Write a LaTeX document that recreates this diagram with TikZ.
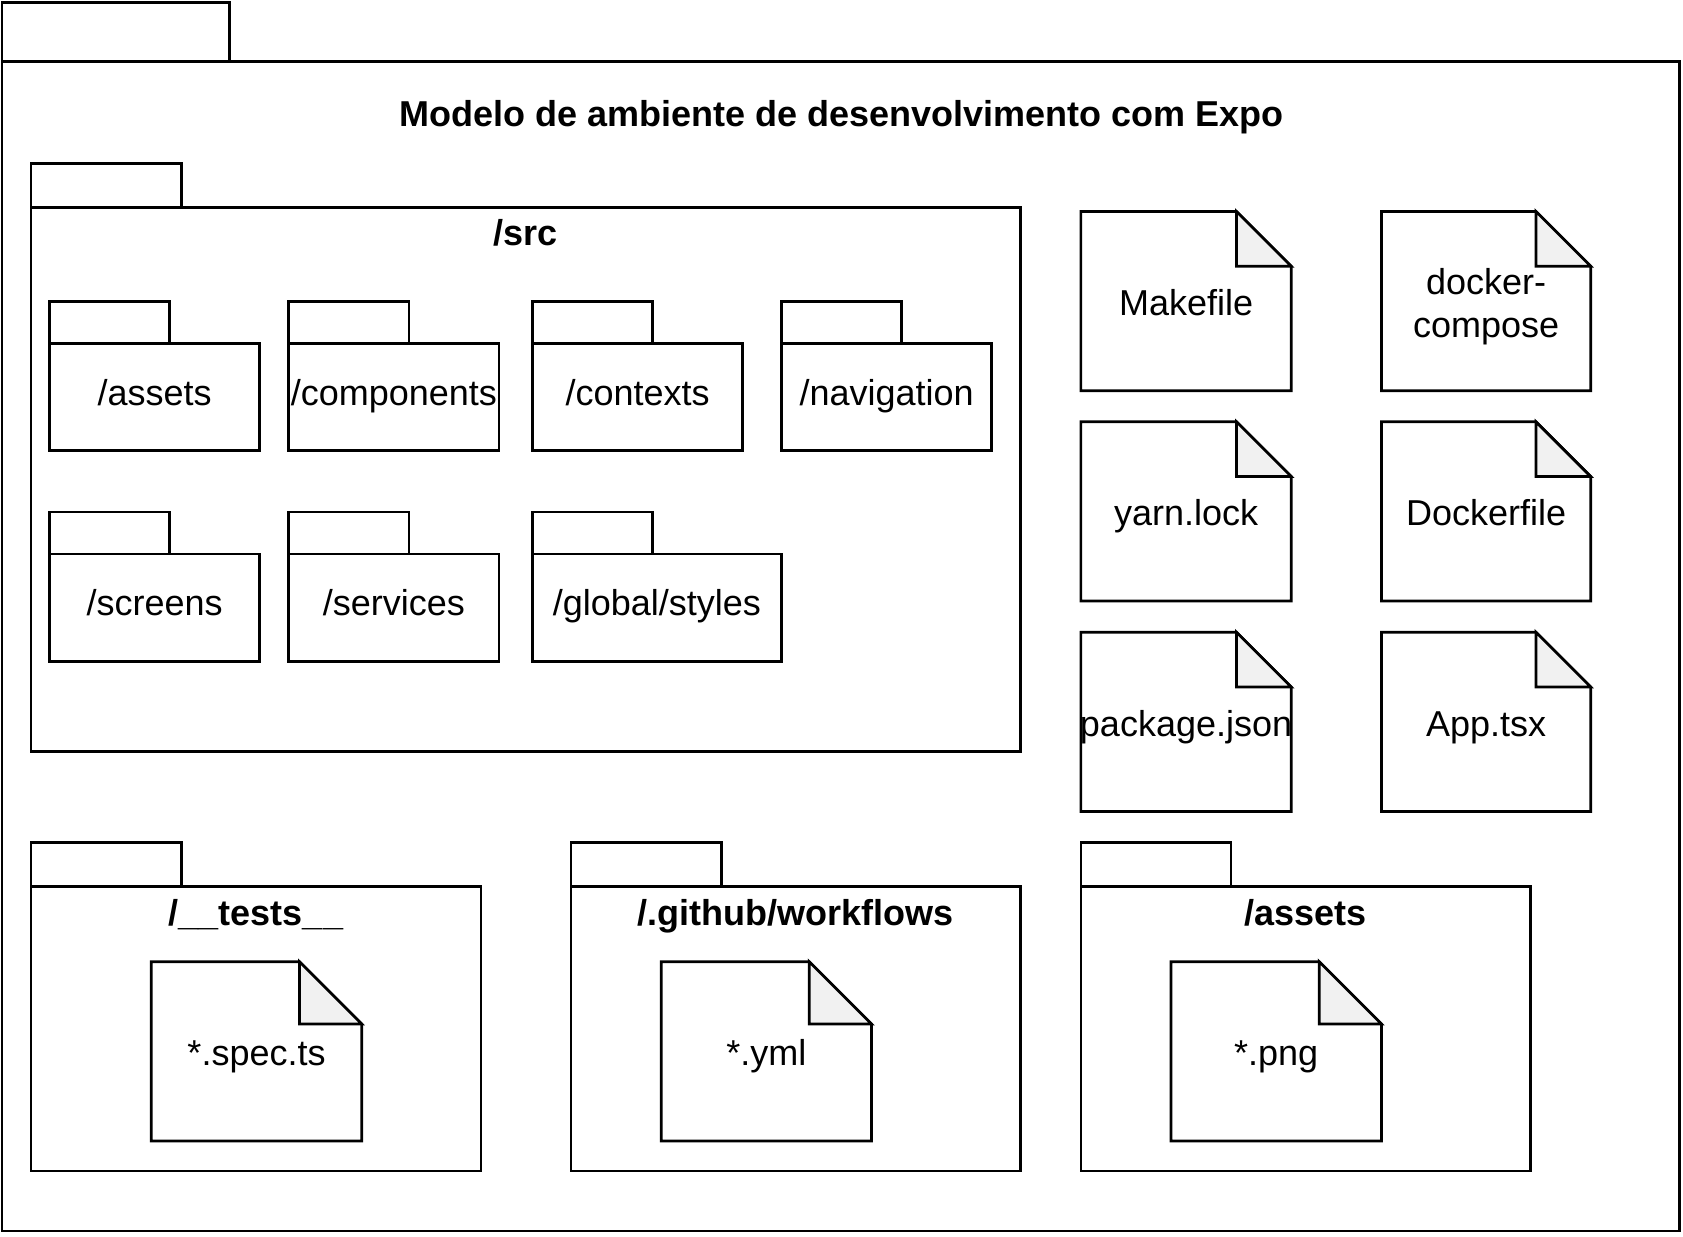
\documentclass[tikz,border=0pt]{standalone}
\usepackage{fontspec}
\setmainfont{Liberation Sans}
\definecolor{foldgray}{HTML}{F1F1F1}
\newcommand{\subpkg}[5]{%
  \draw[ln] (#2,#3) rectangle ({#2+112},{#3+39});
  \draw[ln] (#2,{#3+39}) rectangle ({#2+#4},{#3+139});
  \node[lbl] (#1) at ({#2+#4/2},{#3+85}) {#5};
}
\newcommand{\filenote}[8]{%
  \draw[ln, fill=white] (#2,#3) -- ({#4-#6},#3) -- (#4,{#3+#6}) -- (#4,#5) -- (#2,#5) -- cycle;
  \draw[ln, fill=foldgray] ({#4-#6},#3) -- ({#4-#6},{#3+#6}) -- (#4,{#3+#6}) -- cycle;
  \node[#8] (#1) at ({(#2+#4)/2},{(#3+#5)/2+1.5}) {#7};
}
\begin{document}
\begin{tikzpicture}[x=1.0733pt,y=-1.0733pt,
  ln/.style={line width=2.7pt, draw=black, line join=miter},
  lbl/.style={font=\fontsize{36}{42}\selectfont, inner sep=0pt, text height=26pt, text depth=0.5pt},
  mlbl/.style={font=\fontsize{36}{42}\selectfont, inner sep=0pt, align=center, yshift=-4pt},
  blbl/.style={font=\fontsize{36}{42}\selectfont\bfseries, inner sep=0pt, text height=26pt, text depth=0.5pt}]
\useasboundingbox (0,0) rectangle (1568,1152);
\fill[white] (0,0) rectangle (1568,1152);

% outer package
\draw[ln] (2,2) rectangle (214,57);
\draw[ln] (2,57) rectangle (1565,1147);
\node[blbl] (title) at (784,106) {Modelo de ambiente de desenvolvimento com Expo};

% /src package
\draw[ln] (29,152) rectangle (169,193);
\draw[ln] (29,193) rectangle (951,700);
\node[blbl] (src) at (490,217) {/src};

\subpkg{assets}{46}{281}{196}{/assets}
\subpkg{components}{269}{281}{196}{/components}
\subpkg{contexts}{496}{281}{196}{/contexts}
\subpkg{navigation}{728}{281}{196}{/navigation}
\subpkg{screens}{46}{477}{196}{/screens}
\subpkg{services}{269}{477}{196}{/services}
\subpkg{globalstyles}{496}{477}{232}{/global/styles}

% loose files
\filenote{makefile}{1007}{197}{1203}{364}{51}{Makefile}{lbl}
\filenote{dockercompose}{1287}{197}{1482}{364}{51}{docker-\\compose}{mlbl}
\filenote{yarnlock}{1007}{393}{1203}{560}{51}{yarn.lock}{lbl}
\filenote{dockerfile}{1287}{393}{1482}{560}{51}{Dockerfile}{lbl}
\filenote{packagejson}{1007}{589}{1203}{756}{51}{package.json}{lbl}
\filenote{apptsx}{1287}{589}{1482}{756}{51}{App.tsx}{lbl}

% /__tests__
\draw[ln] (29,785) rectangle (169,826);
\draw[ln] (29,826) rectangle (448,1091);
\node[blbl] (tests) at (238.5,850) {/\_\_tests\_\_};
\filenote{spects}{141}{896}{337}{1063}{58}{*.spec.ts}{lbl}

% /.github/workflows
\draw[ln] (532,785) rectangle (672,826);
\draw[ln] (532,826) rectangle (951,1091);
\node[blbl] (github) at (741.5,850) {/.github/workflows};
\filenote{yml}{616}{896}{812}{1063}{58}{*.yml}{lbl}

% /assets (root)
\draw[ln] (1007,785) rectangle (1147,826);
\draw[ln] (1007,826) rectangle (1426,1091);
\node[blbl] (rootassets) at (1216.5,850) {/assets};
\filenote{png}{1091}{896}{1287}{1063}{58}{*.png}{lbl}
\end{tikzpicture}
\end{document}
